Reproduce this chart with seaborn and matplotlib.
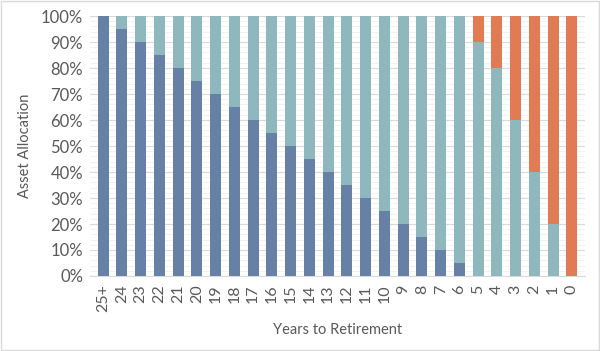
import numpy as np
import pandas as pd
import seaborn as sns
import matplotlib.pyplot as plt
from matplotlib.ticker import MultipleLocator, PercentFormatter
from matplotlib.patches import Rectangle

# =========================
# DATA
# =========================

years = ['25+', '24', '23', '22', '21', '20', '19', '18', '17', '16', '15', '14', '13',
         '12', '11', '10', '9', '8', '7', '6', '5', '4', '3', '2', '1', '0']

stocks = [100, 95, 90, 85, 80, 75, 70, 65, 60, 55, 50, 45, 40,
          35, 30, 25, 20, 15, 10, 5, 0, 0, 0, 0, 0, 0]
bonds = [0, 5, 10, 15, 20, 25, 30, 35, 40, 45, 50, 55, 60,
         65, 70, 75, 80, 85, 90, 95, 90, 80, 60, 40, 20, 0]
cash = [0, 0, 0, 0, 0, 0, 0, 0, 0, 0, 0, 0, 0,
        0, 0, 0, 0, 0, 0, 0, 10, 20, 40, 60, 80, 100]

df = pd.DataFrame({'Years': years, 'Stocks': stocks, 'Bonds': bonds, 'Cash': cash})
df['StocksBonds'] = df['Stocks'] + df['Bonds']
df['Total'] = df['StocksBonds'] + df['Cash']

# =========================
# PLOT
# =========================

sns.set_style('white')
plt.rcParams['font.family'] = ['Lato', 'DejaVu Sans']

text_color = '#595959'

fig = plt.figure(figsize=(6, 3.51), dpi=100)
ax = fig.add_axes([0.15, 0.2137, 0.825, 0.7405])

# stacked bars: draw cumulative totals back to front
sns.barplot(data=df, x='Years', y='Total', color='#E07B54', width=0.58,
            saturation=1, linewidth=0, ax=ax, zorder=3)
sns.barplot(data=df, x='Years', y='StocksBonds', color='#8FB7BE', width=0.58,
            saturation=1, linewidth=0, ax=ax, zorder=3)
sns.barplot(data=df, x='Years', y='Stocks', color='#6781A6', width=0.58,
            saturation=1, linewidth=0, ax=ax, zorder=3)

ax.set_ylim(0, 100)
ax.set_xlim(-0.7, len(years) - 0.3)
ax.yaxis.set_major_locator(MultipleLocator(10))
ax.yaxis.set_minor_locator(MultipleLocator(2))
ax.yaxis.set_major_formatter(PercentFormatter(decimals=0))
ax.grid(axis='y', which='major', color='#D9D9D9', linewidth=0.8, zorder=0)
ax.grid(axis='y', which='minor', color='#F0F0F0', linewidth=0.6, zorder=0)
ax.set_axisbelow(True)

for side in ['top', 'right', 'left']:
    ax.spines[side].set_visible(False)
ax.spines['bottom'].set_color('#D9D9D9')

ax.tick_params(axis='x', rotation=90, labelsize=11.5, colors=text_color, length=0, pad=6)
ax.tick_params(axis='y', labelsize=12, colors=text_color, length=0, pad=5)
ax.tick_params(axis='y', which='minor', length=0)

ax.set_xlabel('Years to Retirement', fontsize=10.5, color=text_color, labelpad=8)
ax.set_ylabel('Asset Allocation', fontsize=10.5, color=text_color, labelpad=6)

fig.patches.append(Rectangle((0.002, 0.003), 0.996, 0.994, transform=fig.transFigure,
                             fill=False, edgecolor='#D9D9D9', linewidth=1))

fig.savefig('out.png', dpi=100)
